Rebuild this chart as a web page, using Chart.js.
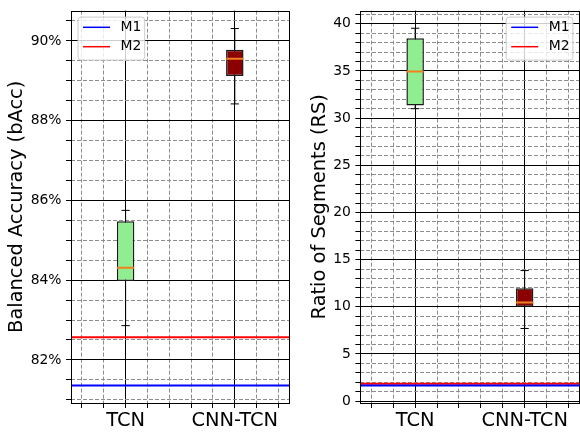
<!DOCTYPE html>
<html>
<head>
<meta charset="utf-8">
<script src="https://cdn.jsdelivr.net/npm/chart.js@4.4.1/dist/chart.umd.min.js"></script>
<style>
  html, body { margin: 0; padding: 0; background: #fff; overflow: hidden; }
  body { width: 580px; height: 433px; position: relative; }
  canvas { position: absolute; top: 0; }
</style>
</head>
<body>
<canvas id="accChart" width="300" height="433" style="left:0px"></canvas>
<canvas id="rsChart" width="300" height="433" style="left:290px"></canvas>
<script>
// Box plot data for the two models
const categories = ["TCN", "CNN-TCN"];
const positions = [1, 2];
const boxColors = ["#90ee90", "#8b0000"];

// Balanced accuracy (%)
const accWhiskerLow = [82.86, 88.42];
const accQ1 = [83.98, 89.12];
const accMedian = [84.31, 89.55];
const accQ3 = [85.48, 89.78];
const accWhiskerHigh = [85.75, 90.31];
const accM1 = 81.36;
const accM2 = 82.57;
const accMajorTicks = [82, 84, 86, 88, 90];
const accTickLabels = ["82%", "84%", "86%", "88%", "90%"];

// Ratio of segments
const rsWhiskerLow = [31.0, 7.7];
const rsQ1 = [31.35, 10.0];
const rsMedian = [34.95, 10.45];
const rsQ3 = [38.47, 11.96];
const rsWhiskerHigh = [39.53, 13.84];
const rsM1 = 1.65;
const rsM2 = 1.85;
const rsMajorTicks = [0, 5, 10, 15, 20, 25, 30, 35, 40];
const rsTickLabels = ["0", "5", "10", "15", "20", "25", "30", "35", "40"];

const FONT = "'DejaVu Sans', sans-serif";

// grid positions every `step` between min and max
function gridValues(min, max, step) {
  const out = [];
  for (let k = Math.ceil(min / step - 1e-9); k * step <= max + 1e-9; k++) {
    out.push(Math.round(k * step * 1000) / 1000);
  }
  return out;
}

function isIn(v, list) {
  return list.some((m) => Math.abs(m - v) < 1e-6);
}

// draws the axes frame and a matplotlib-like legend inside the plot
const frameAndLegend = {
  id: "frameAndLegend",
  afterDatasetsDraw(chart) {
    const { ctx, chartArea: a } = chart;
    ctx.save();
    ctx.strokeStyle = "#000";
    ctx.lineWidth = 1;
    ctx.strokeRect(Math.round(a.left) + 0.5, Math.round(a.top) + 0.5,
      Math.round(a.right - a.left), Math.round(a.bottom - a.top));
    ctx.restore();
  },
  afterDraw(chart, args, opts) {
    const { ctx, chartArea: a } = chart;
    const items = chart.data.datasets.filter((d) => d.label);
    const w = 66.7, h = 43;
    const x = opts.corner === "right" ? a.right - 7 - w : a.left + 6.5;
    const y = a.top + 6;
    ctx.save();
    ctx.beginPath();
    ctx.roundRect(x + 0.5, y + 0.5, w, h, 3);
    ctx.fillStyle = "rgba(255,255,255,0.8)";
    ctx.fill();
    ctx.strokeStyle = "#cccccc";
    ctx.lineWidth = 1;
    ctx.stroke();
    ctx.font = "13.9px " + FONT;
    ctx.textBaseline = "middle";
    items.forEach((d, i) => {
      const cy = y + 10.7 + i * 19.4;
      ctx.strokeStyle = d.borderColor;
      ctx.lineWidth = 1.5;
      ctx.beginPath();
      ctx.moveTo(x + 5.5, cy);
      ctx.lineTo(x + 32.5, cy);
      ctx.stroke();
      ctx.fillStyle = "#000";
      ctx.fillText(d.label, x + 43, cy);
    });
    ctx.restore();
  },
};

function makeChart(id, o) {
  const ctx = document.getElementById(id).getContext("2d");
  const xTicks = gridValues(0.5, 2.5, 0.2);
  const yTicks = gridValues(o.yMin, o.yMax, o.yMinorStep);

  const whiskerData = [];
  positions.forEach((x, i) => {
    whiskerData.push({ x, y: o.lo[i] }, { x, y: o.q1[i] }, { x, y: null });
    whiskerData.push({ x, y: o.q3[i] }, { x, y: o.hi[i] }, { x, y: null });
  });

  return new Chart(ctx, {
    type: "bar",
    data: {
      datasets: [
        {
          type: "line", label: "M1",
          data: [{ x: 0.5, y: o.m1 }, { x: 2.5, y: o.m1 }],
          borderColor: "#0000ff", borderWidth: 2, pointRadius: 0,
        },
        {
          type: "line", label: "M2",
          data: [{ x: 0.5, y: o.m2 }, { x: 2.5, y: o.m2 }],
          borderColor: "#ff0000", borderWidth: 2, pointRadius: 0,
        },
        {
          // medians
          type: "scatter",
          data: positions.map((x, i) => ({ x, y: o.med[i] })),
          pointStyle: "line", pointRadius: 8.6, pointHoverRadius: 8.6,
          pointBorderColor: "#f08020", pointBorderWidth: 2,
        },
        {
          // whisker caps
          type: "scatter",
          data: positions.flatMap((x, i) => [{ x, y: o.lo[i] }, { x, y: o.hi[i] }]),
          pointStyle: "line", pointRadius: 4.15, pointHoverRadius: 4.15,
          pointBorderColor: "#000", pointBorderWidth: 1,
        },
        {
          // boxes q1..q3 (ticks are 0.2 apart, border is drawn inside)
          type: "bar",
          data: positions.map((x, i) => ({ x, y: [o.q1[i], o.q3[i]] })),
          backgroundColor: boxColors,
          borderColor: "#1a1a1a", borderWidth: 1.5, borderSkipped: false,
          categoryPercentage: 1, barPercentage: 0.8,
        },
        {
          type: "line", data: whiskerData,
          borderColor: "#000", borderWidth: 1, pointRadius: 0, spanGaps: false,
        },
      ],
    },
    options: {
      responsive: false,
      animation: false,
      layout: { padding: { left: 0, top: 10, right: o.padRight, bottom: 0 } },
      plugins: {
        legend: { display: false },
        tooltip: { enabled: false },
        frameAndLegend: { corner: o.legendCorner },
      },
      scales: {
        x: {
          type: "linear", min: 0.5, max: 2.5, offset: false,
          afterBuildTicks: (s) => { s.ticks = xTicks.map((v) => ({ value: v })); },
          afterFit: (s) => { s.height = 30; s.paddingLeft = 0; s.paddingRight = 0; },
          grid: {
            offset: false,
            color: (c) => (c.tick && isIn(c.tick.value, positions) ? "#000" : "#8c8c8c"),
            lineWidth: 1, tickLength: 5, tickColor: "#000", tickWidth: 1,
          },
          border: { display: false, dash: (c) => (c.tick && !isIn(c.tick.value, positions) ? [4, 2] : []) },
          ticks: {
            autoSkip: false, maxRotation: 0, padding: 1, color: "#000",
            font: { family: FONT, size: 19.4 },
            callback: (v) => {
              const i = positions.findIndex((p) => Math.abs(p - v) < 1e-6);
              return i >= 0 ? categories[i] : "";
            },
          },
        },
        y: {
          type: "linear", min: o.yMin, max: o.yMax,
          afterBuildTicks: (s) => { s.ticks = yTicks.map((v) => ({ value: v })); },
          afterFit: (s) => { s.width = o.yAxisWidth; s.paddingTop = 0; s.paddingBottom = 0; },
          grid: {
            color: (c) => (c.tick && isIn(c.tick.value, o.majors) ? "#000" : "#8c8c8c"),
            lineWidth: 1, tickLength: 5, tickColor: "#000", tickWidth: 1,
          },
          border: { display: false, dash: (c) => (c.tick && !isIn(c.tick.value, o.majors) ? [4, 2] : []) },
          ticks: {
            autoSkip: false, padding: 4.5, color: "#000",
            font: { family: FONT, size: 13.9 },
            callback: (v) => {
              const i = o.majors.findIndex((m) => Math.abs(m - v) < 1e-6);
              return i >= 0 ? o.labels[i] : "";
            },
          },
          title: {
            display: true, text: o.title, color: "#000",
            font: { family: FONT, size: 19.4 },
            padding: { top: o.titlePad, bottom: 0 },
          },
        },
      },
    },
    plugins: [frameAndLegend],
  });
}

makeChart("accChart", {
  lo: accWhiskerLow, q1: accQ1, med: accMedian, q3: accQ3, hi: accWhiskerHigh,
  m1: accM1, m2: accM2, majors: accMajorTicks, labels: accTickLabels,
  yMin: 80.92, yMax: 90.76, yMinorStep: 0.5,
  title: "Balanced Accuracy (bAcc)", titlePad: 5.4,
  yAxisWidth: 71, padRight: 7, legendCorner: "left",
});

makeChart("rsChart", {
  lo: rsWhiskerLow, q1: rsQ1, med: rsMedian, q3: rsQ3, hi: rsWhiskerHigh,
  m1: rsM1, m2: rsM2, majors: rsMajorTicks, labels: rsTickLabels,
  yMin: -0.2, yMax: 41.4, yMinorStep: 1,
  title: "Ratio of Segments (RS)", titlePad: 17.9,
  yAxisWidth: 70.4, padRight: 8, legendCorner: "right",
});
</script>
</body>
</html>
